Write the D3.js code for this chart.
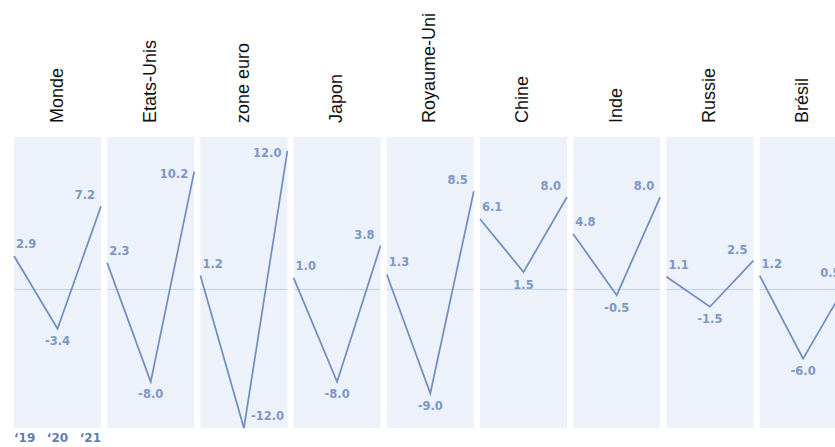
<!DOCTYPE html>
<html><head><meta charset="utf-8">
<script src="https://cdn.jsdelivr.net/npm/d3@7"></script>
<style>html,body{margin:0;padding:0;background:#fff;}svg{display:block;}</style>
</head><body>
<script>
const countries = ["Monde","Etats-Unis","zone euro","Japon","Royaume-Uni","Chine","Inde","Russie","Brésil"];
const years = ["‘19","‘20","‘21"];
const v2019 = [2.9, 2.3, 1.2, 1.0, 1.3, 6.1, 4.8, 1.1, 1.2];
const v2020 = [-3.4, -8.0, -12.0, -8.0, -9.0, 1.5, -0.5, -1.5, -6.0];
const v2021 = [7.2, 10.2, 12.0, 3.8, 8.5, 8.0, 8.0, 2.5, 0.5];

const W = 835, H = 447;
const svg = d3.select("body").append("svg").attr("width", W).attr("height", H);

const fx = d3.scaleBand().domain(countries).range([14, 846.6]).paddingInner(0.0665).paddingOuter(0);
const bw = fx.bandwidth();
const x = d3.scalePoint().domain(years).range([0, bw]);
const y = d3.scaleLinear().domain([-12, 13.2]).range([428, 137]);

const lineCol = "#6f8dc0", labCol = "#7d98c5";
const labFont = "'DejaVu Sans', sans-serif";

countries.forEach((c, i) => {
  const g = svg.append("g").attr("transform", `translate(${fx(c)},0)`);
  g.append("rect").attr("x", 0).attr("y", y.range()[1]).attr("width", bw)
    .attr("height", y.range()[0] - y.range()[1]).attr("fill", "#edf2fa");
  g.append("line").attr("x1", 0).attr("x2", bw).attr("y1", y(0)).attr("y2", y(0))
    .attr("stroke", "#c3d2e8").attr("stroke-width", 1);
  const vals = [v2019[i], v2020[i], v2021[i]];
  const pts = years.map((yr, j) => [x(yr), y(vals[j])]);
  g.append("path").attr("d", d3.line()(pts)).attr("fill", "none")
    .attr("stroke", lineCol).attr("stroke-width", 1.7).attr("stroke-linejoin", "miter");
  const lab = (txt, xx, yy, anchor) => g.append("text").attr("x", xx).attr("y", yy)
    .attr("text-anchor", anchor).attr("dominant-baseline", "central")
    .attr("font-family", labFont).attr("font-weight", 600).attr("font-size", 11.5)
    .attr("fill", labCol).text(txt);
  const f = v => v.toFixed(1);
  lab(f(vals[0]), x(years[0]) + 2, y(vals[0]) - 12, "start");
  const y2 = y(vals[1]);
  if (y2 + 12.5 > 418) lab(f(vals[1]), x(years[1]) + 7, y2 - 12, "start");
  else lab(f(vals[1]), x(years[1]), y2 + 12.5, "middle");
  const y3 = y(vals[2]);
  if (y3 - 11 < 165) lab(f(vals[2]), x(years[2]) - 6, y3 + 2, "end");
  else lab(f(vals[2]), x(years[2]) - 6, y3 - 11, "end");
  // title
  svg.append("text")
    .attr("transform", `translate(${fx(c) + bw / 2 + 5},123) rotate(-90)`)
    .attr("text-anchor", "start")
    .attr("font-family", "'Liberation Sans', Arial, sans-serif")
    .attr("font-size", 18).attr("fill", "#111").text(c);
  if (i === 0) {
    years.forEach((yr, j) => {
      svg.append("text").attr("x", fx(c) + x(yr)).attr("y", 438)
        .attr("text-anchor", j === 0 ? "start" : j === 1 ? "middle" : "end")
        .attr("dominant-baseline", "central")
        .attr("font-family", labFont).attr("font-weight", 600).attr("font-size", 12)
        .attr("fill", "#5f7db2").text(yr);
    });
  }
});
</script>
</body></html>
